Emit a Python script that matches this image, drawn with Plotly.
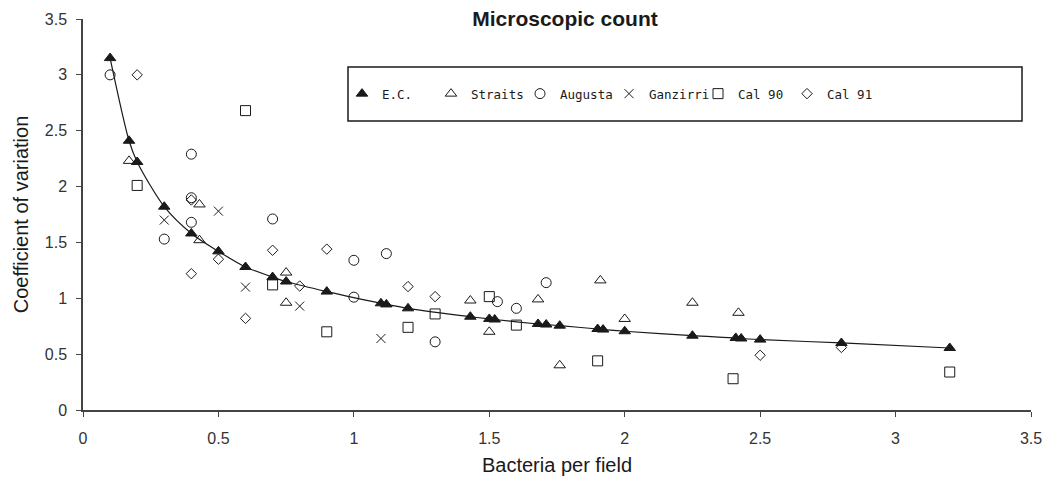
import plotly.graph_objects as go

# ---- data ----
ec_x = [0.1, 0.17, 0.2, 0.3, 0.4, 0.5, 0.6, 0.7, 0.75, 0.9, 1.1, 1.12, 1.2, 1.43, 1.5, 1.52,
        1.68, 1.71, 1.76, 1.9, 1.92, 2.0, 2.25, 2.41, 2.43, 2.5, 2.8, 3.2]
ec_y = [3.15, 2.41, 2.22, 1.82, 1.58, 1.42, 1.28, 1.19, 1.15, 1.06, 0.955, 0.945, 0.91, 0.835,
        0.815, 0.81, 0.77, 0.765, 0.755, 0.725, 0.72, 0.705, 0.665, 0.645, 0.64, 0.63, 0.60, 0.555]

st_x = [0.17, 0.43, 0.43, 0.75, 0.75, 1.43, 1.5, 1.68, 1.76, 1.91, 2.0, 2.25, 2.42]
st_y = [2.23, 1.84, 1.52, 1.23, 0.96, 0.98, 0.70, 0.99, 0.40, 1.16, 0.815, 0.96, 0.87]

au_x = [0.1, 0.3, 0.4, 0.4, 0.4, 0.7, 1.0, 1.0, 1.12, 1.3, 1.53, 1.6, 1.71]
au_y = [3.0, 1.53, 2.29, 1.90, 1.68, 1.71, 1.34, 1.01, 1.40, 0.61, 0.97, 0.91, 1.14]

gz_x = [0.3, 0.5, 0.6, 0.8, 1.1]
gz_y = [1.70, 1.78, 1.10, 0.93, 0.64]

c90_x = [0.2, 0.6, 0.7, 0.9, 1.2, 1.3, 1.5, 1.6, 1.9, 2.4, 3.2]
c90_y = [2.01, 2.68, 1.12, 0.70, 0.74, 0.86, 1.015, 0.76, 0.44, 0.28, 0.34]

c91_x = [0.2, 0.4, 0.4, 0.5, 0.6, 0.7, 0.8, 0.9, 1.2, 1.3, 2.5, 2.8]
c91_y = [3.0, 1.88, 1.22, 1.35, 0.82, 1.43, 1.11, 1.44, 1.105, 1.015, 0.49, 0.56]

tick_vals = [0, 0.5, 1, 1.5, 2, 2.5, 3, 3.5]
tick_text = ["0", "0.5", "1", "1.5", "2", "2.5", "3", "3.5"]

INK = "#1a1a1a"
TICKFONT = dict(family="Liberation Sans Narrow, Arial Narrow, Liberation Sans, Arial", size=16, color="#333")
TITLEFONT = dict(family="Liberation Sans, Arial", size=20, color=INK)

fig = go.Figure()

# fitted curve through the E.C. points
fig.add_trace(go.Scatter(x=ec_x, y=ec_y, mode="lines",
                         line=dict(color=INK, width=1.2, shape="spline", smoothing=0.8),
                         showlegend=False, hoverinfo="skip"))

def mk(name, xs, ys, symbol, size):
    marker = dict(symbol=symbol, size=size, color=INK, line=dict(color=INK, width=1))
    fig.add_trace(go.Scatter(x=xs, y=ys, mode="markers", name=name, marker=marker))

mk("E.C.", ec_x, ec_y, "triangle-up", 10)
mk("Straits", st_x, st_y, "triangle-up-open", 10)
mk("Augusta", au_x, au_y, "circle-open", 10)
mk("Ganzirri", gz_x, gz_y, "x-thin-open", 9)
mk("Cal 90", c90_x, c90_y, "square-open", 10)
mk("Cal 91", c91_x, c91_y, "diamond-open", 8)

# page body has an 8px margin; figure size/margins compensate for it (no page overflow)
OFF = 8
W, H = 1052 - 2 * OFF, 485 - 2 * OFF
PLOT_L, PLOT_R, PLOT_T, PLOT_B = 83, 1031, 19, 410   # screen px of the plot area
L, R, T, B = PLOT_L - OFF, OFF + W - PLOT_R, PLOT_T - OFF, OFF + H - PLOT_B
pw, ph = W - L - R, H - T - B

def px2paper_x(px):  # px in screen coordinates
    return (px - OFF - L) / pw

def py2paper_y(py):
    return (H - B - (py - OFF)) / ph

fig.update_layout(
    width=W, height=H,
    margin=dict(l=L, r=R, t=T, b=B, autoexpand=False),
    paper_bgcolor="white", plot_bgcolor="white",
    font=dict(family="Liberation Sans, Arial", color=INK),
    title=dict(text="<b>Microscopic count</b>", x=(565 - OFF) / W, xref="container", xanchor="center",
               y=1 - (19 - OFF) / H, yref="container", yanchor="middle",
               font=dict(family="Liberation Sans, Arial", size=21, color=INK)),
    showlegend=True,
    legend=dict(orientation="h", x=px2paper_x(342), y=py2paper_y(94), xanchor="left", yanchor="middle",
                bgcolor="rgba(0,0,0,0)", borderwidth=0,
                font=dict(family="DejaVu Sans Mono", size=12.5, color=INK),
                itemwidth=30, entrywidth=44, entrywidthmode="pixels", tracegroupgap=0),
    xaxis=dict(range=[0, 3.5], tickvals=tick_vals, ticktext=tick_text, showgrid=False, zeroline=False,
               showline=True, linecolor="#444", linewidth=1.5, ticks="outside", ticklen=5, tickcolor="#444",
               tickfont=TICKFONT, ticklabelstandoff=8, automargin=False, ticklabeloverflow="allow",
               title=dict(text="Bacteria per field", font=TITLEFONT, standoff=12)),
    yaxis=dict(range=[0, 3.5], tickvals=tick_vals, ticktext=tick_text, showgrid=False, zeroline=False,
               showline=True, linecolor="#444", linewidth=1.5, ticks="outside", ticklen=5, tickcolor="#444",
               tickfont=TICKFONT, ticklabelstandoff=6, automargin=False,
               title=dict(text="Coefficient of variation", font=TITLEFONT, standoff=11)),
    shapes=[dict(type="rect", xref="paper", yref="paper",
                 x0=px2paper_x(348), x1=px2paper_x(1022), y0=py2paper_y(121), y1=py2paper_y(67),
                 line=dict(color=INK, width=1.5), fillcolor="rgba(0,0,0,0)", layer="above")],
)

fig.write_html("out.html")
